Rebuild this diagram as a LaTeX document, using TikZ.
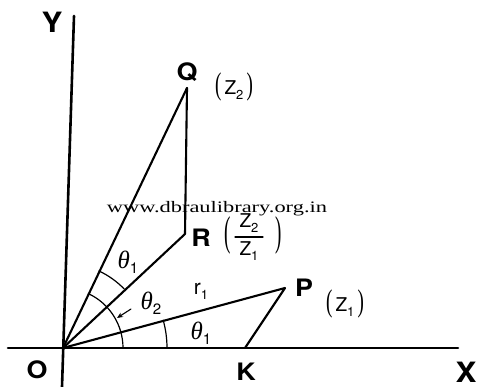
\documentclass[tikz,border=0pt]{standalone}
\usepackage{fontspec}
\setmainfont{TeX Gyre Heros}
\newfontfamily\wmfont{Liberation Serif}
\newfontfamily\thfont{Liberation Serif}
\usetikzlibrary{arrows.meta}
\newcommand{\mysub}[1]{\raisebox{-0.45ex}{\fontsize{13}{13}\selectfont #1}}
\newcommand{\thsub}[1]{\raisebox{-0.35ex}{\fontsize{15}{15}\selectfont #1}}
\newcommand{\mytheta}[1]{{\thfont\itshape θ}\thsub{#1}}
\newcommand{\lpar}[1]{{\wmfont\scalebox{1}[#1]{(}}}
\newcommand{\rpar}[1]{{\wmfont\scalebox{1}[#1]{)}}}
\newcommand{\wide}[1]{\scalebox{1.12}[1]{#1}}
\begin{document}
\begin{tikzpicture}[x=1pt,y=-1pt,line cap=round,line join=round,
  axis/.style={line width=2.6pt},
  seg/.style={line width=2.1pt},
  anglearc/.style={line width=1.2pt},
  pointlbl/.style={inner sep=0pt,font=\fontsize{24}{26}\selectfont\bfseries},
  axislbl/.style={inner sep=0pt,font=\fontsize{28}{30}\selectfont\bfseries},
  zlbl/.style={inner sep=0pt,font=\fontsize{19}{21}\selectfont},
  anglbl/.style={inner sep=0pt,font=\fontsize{25}{26}\selectfont},
  rlbl/.style={inner sep=0pt,font=\fontsize{21}{22}\selectfont},
  wm/.style={inner sep=0pt,font=\wmfont\fontsize{16}{18}\selectfont}]
\path[use as bounding box] (0,0) rectangle (477,387);
% points
\coordinate (O) at (63,348);
\coordinate (Q) at (187,88);
\coordinate (R) at (185,234);
\coordinate (P) at (285,288);
\coordinate (K) at (245,348);
\coordinate (Xend) at (458,348);
\coordinate (Xstart) at (8,348);
\coordinate (Ytop) at (74,16);
\coordinate (Ybot) at (62,387);
% axes
\draw[axis] (Xstart) -- (Xend);
\draw[axis] (Ytop) -- (Ybot);
% segments
\draw[seg] (O) -- (Q);
\draw[seg] (O) -- (R) -- (Q);
\draw[seg] (O) -- (P) -- (K);
% angle arcs
\draw[anglearc] (O) ++(0:60) arc[start angle=0,end angle=-65,radius=60];
\draw[anglearc] (O) ++(-44:85) arc[start angle=-44,end angle=-65,radius=85];
\draw[anglearc] (O) ++(0:104) arc[start angle=0,end angle=-15.5,radius=104];
% arrow to theta2 arc
\coordinate (arrtail) at (131,309);
\coordinate (arrtip) at (117,318);
\draw[line width=1.1pt,-{Stealth[length=6pt,width=5pt]}] (arrtail) -- (arrtip);
% labels
\node[axislbl] (Ylbl) at (52,22) {\wide{Y}};
\node[axislbl] (Xlbl) at (466,372) {\wide{X}};
\node[pointlbl] (Olbl) at (37,370) {\wide{O}};
\node[pointlbl] (Klbl) at (246,372) {\wide{K}};
\node[pointlbl] (Qlbl) at (187,72) {\wide{Q}};
\node[zlbl] (Qz) at (234,87) {\lpar{1.65}\,Z\mysub{2}\,\rpar{1.65}};
\node[pointlbl] (Rlbl) at (201,238) {\wide{R}};
\node[zlbl] (Rlp) at (228,235) {\lpar{2.2}};
\node[zlbl] (Rnum) at (249,223) {Z\mysub{2}};
\node[zlbl] (Rden) at (249,251) {Z\mysub{1}};
\coordinate (fracL) at (235,237);
\coordinate (fracR) at (263,237);
\draw[line width=1.2pt] (fracL) -- (fracR);
\node[zlbl] (Rrp) at (279,235) {\rpar{2.2}};
\node[pointlbl] (Plbl) at (304,288) {\wide{P}};
\node[zlbl] (Pz) at (345,304) {\lpar{1.65}\,Z\mysub{1}\,\rpar{1.65}};
\node[rlbl] (r1) at (201,291) {r\mysub{1}};
\node[anglbl] (th1a) at (128,262) {\mytheta{1}};
\node[anglbl] (th2) at (151,303) {\mytheta{2}};
\node[anglbl] (th1b) at (201,333) {\mytheta{1}};
\node[wm] (wmtext) at (217,209) {\scalebox{1.4}[1]{www.dbraulibrary.org.in}};
\end{tikzpicture}
\end{document}
